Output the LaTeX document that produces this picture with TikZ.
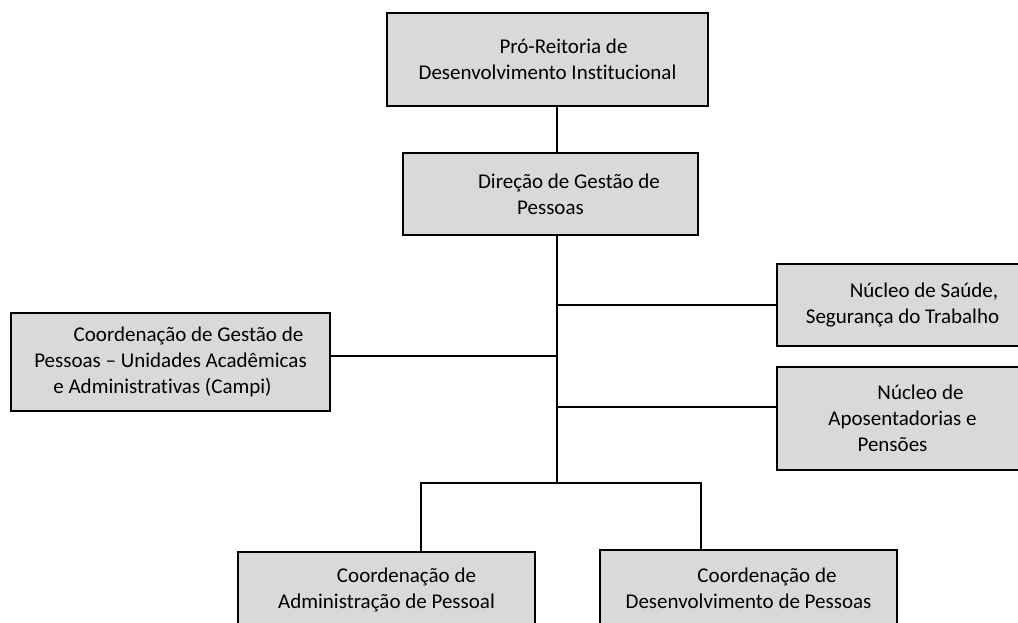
\documentclass[tikz,border=0pt]{standalone}
\usepackage{fontspec}
\setmainfont[Ligatures={NoCommon}]{Carlito}
\definecolor{boxgray}{HTML}{D9D9D9}

\begin{document}
\begin{tikzpicture}[x=1pt, y=-1pt,
    orgbox/.style={draw=black, line width=2pt, fill=boxgray, align=center,
        inner sep=2pt, font=\fontsize{21}{26}\selectfont},
    link/.style={draw=black, line width=2pt}]
    \useasboundingbox (0,0) rectangle (1018,622);
    \clip (0,0) rectangle (1018,622);

    % Top of the chart
    \node[orgbox, minimum width=321pt, minimum height=93pt] (pro) at (547.5,59.5)
        {\hspace*{32pt}Pró-Reitoria de\\Desenvolvimento Institucional};
    \node[orgbox, minimum width=295pt, minimum height=82pt] (dir) at (550.5,194)
        {\hspace*{37pt}Direção de Gestão de\\Pessoas};

    % Side units
    \node[orgbox, minimum width=319pt, minimum height=98pt] (campi) at (170.5,362)
        {\hspace*{36pt}Coordenação de Gestão de\\Pessoas – Unidades Acadêmicas\\e Administrativas (Campi)\hspace*{16pt}\mbox{}};
    \node[orgbox, minimum width=251pt, minimum height=82pt] (saude) at (902.5,305)
        {\hspace*{43pt}Núcleo de Saúde,\\Segurança do Trabalho};
    \node[orgbox, minimum width=251pt, minimum height=103pt] (apos) at (902.5,418.5)
        {\hspace*{36pt}Núcleo de\\Aposentadorias e\\Pensões\hspace*{20pt}\mbox{}};

    % Bottom units
    \node[orgbox, minimum width=297pt, minimum height=76pt] (admin) at (386.5,590)
        {\hspace*{40pt}Coordenação de\\Administração de Pessoal};
    \node[orgbox, minimum width=297pt, minimum height=77pt] (desenv) at (748.5,588.5)
        {\hspace*{37pt}Coordenação de\\Desenvolvimento de Pessoas};

    % Connectors
    \coordinate (split) at (557,483);
    \coordinate (la) at (421,483);
    \coordinate (ra) at (701,483);
    \draw[link] (pro.south -| split) -- (dir.north -| split);
    \draw[link] (dir.south -| split) -- (split);
    \draw[link] (saude.west) -- (saude.west -| split);
    \draw[link] (campi.2) -- (campi.2 -| split);
    \draw[link] (apos.175) -- (apos.175 -| split);
    \draw[link] (admin.north -| la) -- (la) -- (ra) -- (desenv.north -| ra);
\end{tikzpicture}
\end{document}
